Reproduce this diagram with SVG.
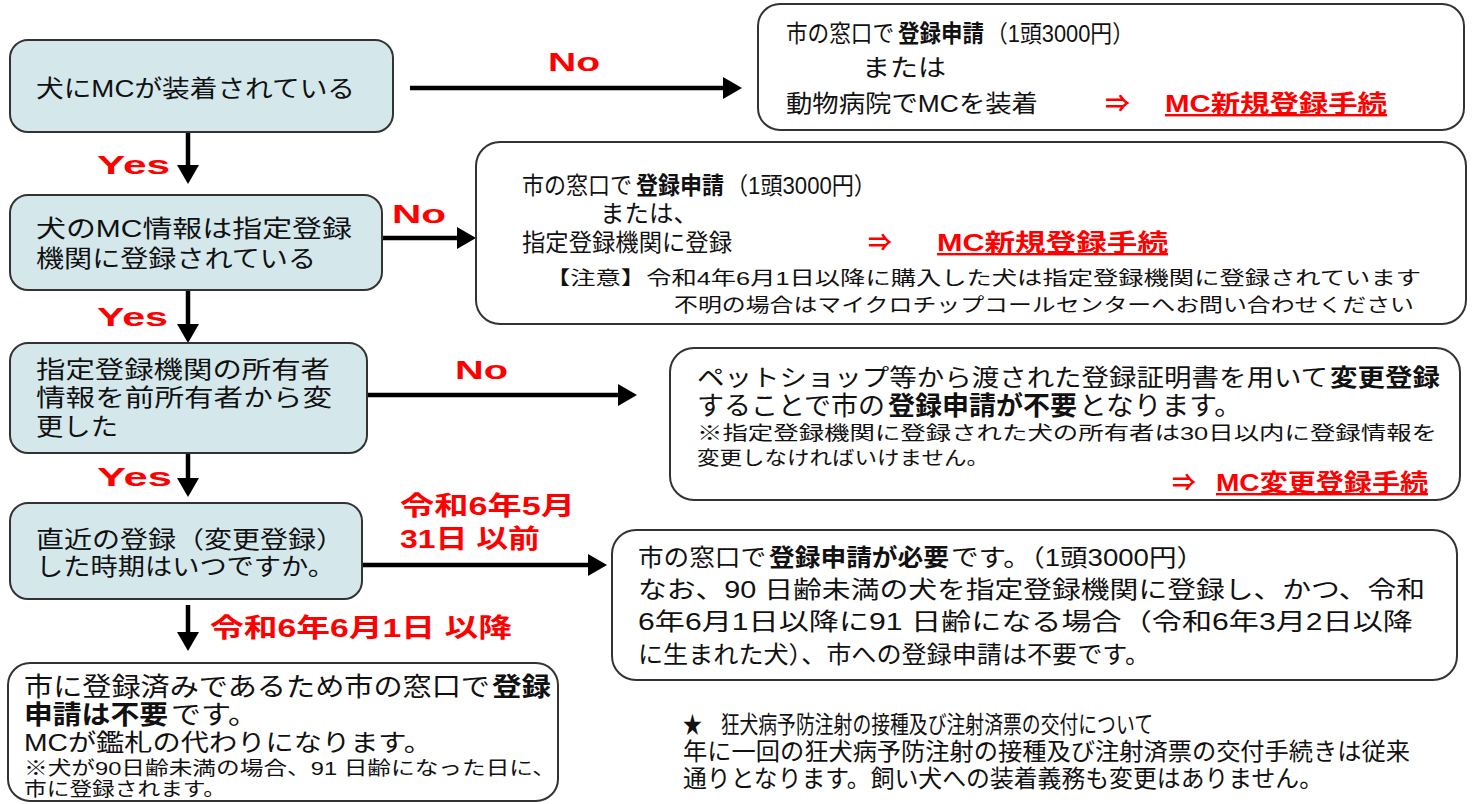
<svg xmlns="http://www.w3.org/2000/svg" width="1478" height="804" viewBox="0 0 1478 804">
<style>
text{font-family:"Liberation Sans","Noto Sans CJK JP",sans-serif;fill:#111;}
.q{fill:#d4e8ec;stroke:#333;stroke-width:2;}
.r{fill:#fff;stroke:#333;stroke-width:2;}
.t{font-size:24px;}
.m{font-size:26px;}
.s{font-size:19px;}
.b{font-weight:bold;}
.red{fill:#ff0000;font-weight:bold;}
.lbl{fill:#ff0000;font-weight:bold;font-size:26px;}
.u{text-decoration:underline;}
.c{stroke:#000;stroke-width:4.5;fill:none;marker-end:url(#ah);}
</style>
<defs>
<marker id="ah" markerUnits="userSpaceOnUse" markerWidth="20" markerHeight="22" refX="0" refY="11" orient="auto">
<path d="M0,0 L19,11 L0,22 Z" fill="#000"/>
</marker>
</defs>

<g id="connectors">
<line class="c" x1="410" y1="88" x2="723" y2="88"/>
<text class="lbl" x="548" y="71" textLength="52" lengthAdjust="spacingAndGlyphs">No</text>
<line class="c" x1="188" y1="132" x2="188" y2="165"/>
<text class="lbl" x="97" y="174" textLength="73" lengthAdjust="spacingAndGlyphs">Yes</text>
<line class="c" x1="382" y1="238" x2="457" y2="238"/>
<text class="lbl" x="392" y="223" textLength="54" lengthAdjust="spacingAndGlyphs">No</text>
<line class="c" x1="188" y1="290" x2="188" y2="324"/>
<text class="lbl" x="97" y="326" textLength="71" lengthAdjust="spacingAndGlyphs">Yes</text>
<line class="c" x1="367" y1="395" x2="618" y2="395"/>
<text class="lbl" x="455" y="379" textLength="53" lengthAdjust="spacingAndGlyphs">No</text>
<line class="c" x1="188" y1="453" x2="188" y2="478"/>
<text class="lbl" x="97" y="486" textLength="75" lengthAdjust="spacingAndGlyphs">Yes</text>
<line class="c" x1="363" y1="565" x2="588" y2="565"/>
<text class="lbl" x="400" y="515" textLength="175" lengthAdjust="spacingAndGlyphs">令和6年5月</text>
<text class="lbl" x="400" y="548" textLength="140" lengthAdjust="spacingAndGlyphs">31日 以前</text>
<line class="c" x1="188" y1="605" x2="188" y2="632"/>
<text class="lbl" x="210" y="637" textLength="302" lengthAdjust="spacingAndGlyphs">令和6年6月1日 以降</text>
</g>

<g id="q1">
<rect class="q" x="10" y="40" width="383" height="92" rx="18"/>
<text class="t" x="36" y="97" textLength="319" lengthAdjust="spacingAndGlyphs">犬にMCが装着されている</text>
</g>

<g id="a1">
<rect class="r" x="758" y="4" width="706" height="126" rx="22"/>
<text class="t" x="786" y="42" textLength="108" lengthAdjust="spacingAndGlyphs">市の窓口で</text>
<text class="t b" x="898" y="42" textLength="86" lengthAdjust="spacingAndGlyphs">登録申請</text>
<text class="t" x="986" y="42" textLength="148" lengthAdjust="spacingAndGlyphs">（1頭3000円）</text>
<text class="t" x="862" y="76" textLength="84" lengthAdjust="spacingAndGlyphs">または</text>
<text class="t" x="786" y="112" textLength="252" lengthAdjust="spacingAndGlyphs">動物病院でMCを装着</text>
<text class="t red" x="1105" y="112" textLength="25" lengthAdjust="spacingAndGlyphs">⇒</text>
<text class="t red u" x="1165" y="112" textLength="222" lengthAdjust="spacingAndGlyphs">MC新規登録手続</text>
</g>

<g id="q2">
<rect class="q" x="10" y="195" width="372" height="95" rx="18"/>
<text class="t" x="36" y="237" textLength="316" lengthAdjust="spacingAndGlyphs">犬のMC情報は指定登録</text>
<text class="t" x="36" y="267" textLength="280" lengthAdjust="spacingAndGlyphs">機関に登録されている</text>
</g>

<g id="a2">
<rect class="r" x="476" y="142" width="990" height="182" rx="24"/>
<text class="t" x="522" y="194" textLength="110" lengthAdjust="spacingAndGlyphs">市の窓口で</text>
<text class="t b" x="636" y="194" textLength="88" lengthAdjust="spacingAndGlyphs">登録申請</text>
<text class="t" x="726" y="194" textLength="150" lengthAdjust="spacingAndGlyphs">（1頭3000円）</text>
<text class="t" x="600" y="222" textLength="98" lengthAdjust="spacingAndGlyphs">または、</text>
<text class="t" x="522" y="251" textLength="210" lengthAdjust="spacingAndGlyphs">指定登録機関に登録</text>
<text class="t red" x="868" y="251" textLength="24" lengthAdjust="spacingAndGlyphs">⇒</text>
<text class="t red u" x="937" y="251" textLength="231" lengthAdjust="spacingAndGlyphs">MC新規登録手続</text>
<text class="s" x="545" y="285" textLength="876" lengthAdjust="spacingAndGlyphs">【注意】令和4年6月1日以降に購入した犬は指定登録機関に登録されています</text>
<text class="s" x="674" y="312" textLength="740" lengthAdjust="spacingAndGlyphs">不明の場合はマイクロチップコールセンターへお問い合わせください</text>
</g>

<g id="q3">
<rect class="q" x="10" y="343" width="357" height="110" rx="18"/>
<text class="t" x="36" y="378" textLength="294" lengthAdjust="spacingAndGlyphs">指定登録機関の所有者</text>
<text class="t" x="36" y="406" textLength="296" lengthAdjust="spacingAndGlyphs">情報を前所有者から変</text>
<text class="t" x="36" y="435" textLength="82" lengthAdjust="spacingAndGlyphs">更した</text>
</g>

<g id="a3">
<rect class="r" x="670" y="348" width="790" height="152" rx="24"/>
<text class="t" x="697" y="386" textLength="631" lengthAdjust="spacingAndGlyphs">ペットショップ等から渡された登録証明書を用いて</text>
<text class="t b" x="1330" y="386" textLength="110" lengthAdjust="spacingAndGlyphs">変更登録</text>
<text class="m" x="697" y="415" textLength="188" lengthAdjust="spacingAndGlyphs">することで市の</text>
<text class="m b" x="888" y="415" textLength="189" lengthAdjust="spacingAndGlyphs">登録申請が不要</text>
<text class="m" x="1079" y="415" textLength="163" lengthAdjust="spacingAndGlyphs">となります。</text>
<text class="s" x="697" y="440" textLength="740" lengthAdjust="spacingAndGlyphs">※指定登録機関に登録された犬の所有者は30日以内に登録情報を</text>
<text class="s" x="697" y="465" textLength="292" lengthAdjust="spacingAndGlyphs">変更しなければいけません。</text>
<text class="t red" x="1172" y="491" textLength="24" lengthAdjust="spacingAndGlyphs">⇒</text>
<text class="t red u" x="1216" y="491" textLength="212" lengthAdjust="spacingAndGlyphs">MC変更登録手続</text>
</g>

<g id="q4">
<rect class="q" x="10" y="503" width="352" height="96" rx="18"/>
<text class="t" x="36" y="548" textLength="308" lengthAdjust="spacingAndGlyphs">直近の登録（変更登録）</text>
<text class="t" x="36" y="575" textLength="299" lengthAdjust="spacingAndGlyphs">した時期はいつですか。</text>
</g>

<g id="a4">
<rect class="r" x="612" y="530" width="845" height="150" rx="24"/>
<text class="t" x="638" y="566" textLength="128" lengthAdjust="spacingAndGlyphs">市の窓口で</text>
<text class="t b" x="769" y="566" textLength="180" lengthAdjust="spacingAndGlyphs">登録申請が必要</text>
<text class="t" x="951" y="566" textLength="253" lengthAdjust="spacingAndGlyphs">です。（1頭3000円）</text>
<text class="t" x="638" y="598" textLength="787" lengthAdjust="spacingAndGlyphs">なお、90 日齢未満の犬を指定登録機関に登録し、かつ、令和</text>
<text class="t" x="638" y="630" textLength="775" lengthAdjust="spacingAndGlyphs">6年6月1日以降に91 日齢になる場合（令和6年3月2日以降</text>
<text class="t" x="638" y="663" textLength="512" lengthAdjust="spacingAndGlyphs">に生まれた犬）、市への登録申請は不要です。</text>
</g>

<g id="a5">
<rect class="r" x="8" y="663" width="550" height="138" rx="22"/>
<text class="m" x="24" y="696" textLength="466" lengthAdjust="spacingAndGlyphs">市に登録済みであるため市の窓口で</text>
<text class="m b" x="492" y="696" textLength="59" lengthAdjust="spacingAndGlyphs">登録</text>
<text class="m b" x="24" y="724" textLength="144" lengthAdjust="spacingAndGlyphs">申請は不要</text>
<text class="m" x="171" y="724" textLength="87" lengthAdjust="spacingAndGlyphs">です。</text>
<text class="t" x="24" y="751" textLength="408" lengthAdjust="spacingAndGlyphs">MCが鑑札の代わりになります。</text>
<text class="s" x="24" y="775" textLength="532" lengthAdjust="spacingAndGlyphs">※犬が90日齢未満の場合、91 日齢になった日に、</text>
<text class="s" x="24" y="796" textLength="202" lengthAdjust="spacingAndGlyphs">市に登録されます。</text>
</g>

<g id="note">
<text class="t" x="683" y="733" textLength="470" lengthAdjust="spacingAndGlyphs">★　狂犬病予防注射の接種及び注射済票の交付について</text>
<text class="t" x="683" y="760" textLength="727" lengthAdjust="spacingAndGlyphs">年に一回の狂犬病予防注射の接種及び注射済票の交付手続きは従来</text>
<text class="t" x="683" y="787" textLength="640" lengthAdjust="spacingAndGlyphs">通りとなります。飼い犬への装着義務も変更はありません。</text>
</g>
</svg>
